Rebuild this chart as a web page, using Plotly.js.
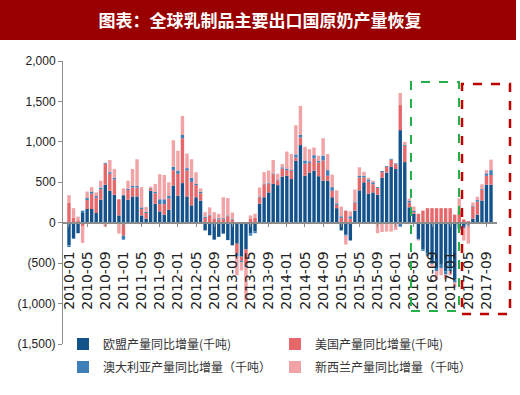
<!DOCTYPE html>
<html><head><meta charset="utf-8">
<script src="https://cdn.plot.ly/plotly-3.0.1.min.js"></script>
<style>html,body{margin:0;padding:0;background:#fff}#chart{width:520px;height:395px}</style>
</head><body><div id="chart"></div>
<script>
const months = [
'2010-01','2010-02','2010-03','2010-04','2010-05','2010-06','2010-07','2010-08','2010-09','2010-10','2010-11','2010-12',
'2011-01','2011-02','2011-03','2011-04','2011-05','2011-06','2011-07','2011-08','2011-09','2011-10','2011-11','2011-12',
'2012-01','2012-02','2012-03','2012-04','2012-05','2012-06','2012-07','2012-08','2012-09','2012-10','2012-11','2012-12',
'2013-01','2013-02','2013-03','2013-04','2013-05','2013-06','2013-07','2013-08','2013-09','2013-10','2013-11','2013-12',
'2014-01','2014-02','2014-03','2014-04','2014-05','2014-06','2014-07','2014-08','2014-09','2014-10','2014-11','2014-12',
'2015-01','2015-02','2015-03','2015-04','2015-05','2015-06','2015-07','2015-08','2015-09','2015-10','2015-11','2015-12',
'2016-01','2016-02','2016-03','2016-04','2016-05','2016-06','2016-07','2016-08','2016-09','2016-10','2016-11','2016-12',
'2017-01','2017-02','2017-03','2017-04','2017-05','2017-06','2017-07','2017-08','2017-09','2017-10'];

const euValues = [
-280,-190,-130,120,170,170,120,285,470,395,345,90,
340,285,325,325,90,50,395,235,140,100,160,460,
335,490,325,215,315,275,-95,-155,-210,-175,-135,-215,
-280,-260,-420,-330,-130,-110,235,315,375,480,465,570,
580,540,765,960,580,620,645,575,520,520,315,180,
-95,-140,-220,150,400,500,360,375,345,555,620,690,
664,1145,750,190,110,-200,-330,-380,-480,-560,-520,-600,
-560,-700,-50,-50,-20,50,100,275,470,470];

const usValues = [
250,60,30,-40,110,190,190,130,260,210,190,200,
-160,120,110,110,80,70,30,130,90,130,140,190,
270,555,320,290,150,90,60,90,50,40,50,80,
40,-120,-50,-200,50,60,80,160,110,120,60,100,
70,100,40,95,150,120,150,170,250,60,80,40,
60,150,50,100,160,60,150,100,85,70,70,90,
60,310,200,60,20,110,150,180,180,180,180,180,
180,100,150,40,20,150,160,130,110,120];

const auValues = [
-20,-10,0,30,25,25,20,20,10,20,20,0,
-50,15,20,20,20,15,5,15,60,60,30,40,
40,40,30,50,15,20,15,10,5,15,10,10,
10,-30,-20,-20,-30,-20,10,10,10,10,10,15,
20,10,40,30,40,20,40,20,60,70,45,20,
20,-20,30,10,20,20,25,25,10,15,10,10,
10,-50,10,20,15,-10,-20,-30,-30,-40,-40,-40,
-40,-40,-30,-20,-10,10,20,10,30,60];

const nzValues = [
90,120,45,-210,80,55,45,85,-50,150,110,-135,
85,100,210,330,250,60,15,100,310,300,170,330,
245,235,180,230,145,40,55,90,75,55,255,215,
75,-240,-100,-410,40,50,110,140,150,165,70,40,
210,200,360,360,170,150,95,65,215,200,155,160,
120,-110,60,150,105,50,20,20,-130,-115,-110,-110,
-90,150,40,30,55,-10,0,-10,-40,-110,-90,-60,
-50,-60,150,-150,-230,40,40,60,40,130];

const seriesNames = ['欧盟产量同比增量(千吨)','美国产量同比增量(千吨)','澳大利亚产量同比增量（千吨）','新西兰产量同比增量（千吨）'];
const xTickLabels = ['2010-01','2010-05','2010-09','2011-01','2011-05','2011-09','2012-01','2012-05','2012-09',
'2013-01','2013-05','2013-09','2014-01','2014-05','2014-09','2015-01','2015-05','2015-09',
'2016-01','2016-05','2016-09','2017-01','2017-05','2017-09'];
const yTickValues = [-1500,-1000,-500,0,500,1000,1500,2000];
const yTickLabels = ['(1,500)','(1,000)','(500)','0','500','1,000','1,500','2,000'];
const titleText = '图表：全球乳制品主要出口国原奶产量恢复';

const colors = ['#14528c','#e6686b','#3d7fb6','#f2a3a6'];
const legendRefs = ['legend','legend2','legend','legend2'];
const allValues = [euValues, usValues, auValues, nzValues];

const traces = allValues.map((vals, k) => ({
  type: 'bar', x: months, y: vals, name: seriesNames[k],
  marker: {color: colors[k], line: {width: 0}},
  legend: legendRefs[k], legendgroup: 'g' + k,
  hoverinfo: 'skip'
}));

// plot area in px: left 63, right 497, top 61, bottom 344
const W = 434, H = 283, L = 63, B = 344;
const px = x => (x - L) / W;
const py = y => (B - y) / H;

const layout = {
  width: 520, height: 395,
  margin: {l: 63, r: 23, t: 61, b: 51, pad: 0},
  paper_bgcolor: '#ffffff', plot_bgcolor: 'rgba(0,0,0,0)',
  barmode: 'relative', bargap: 0.25,
  showlegend: true,
  title: {text: '<b>' + titleText + '</b>', x: 0.5, xref: 'container', xanchor: 'center',
          y: 1 - 21/395, yref: 'container', yanchor: 'middle',
          font: {family: 'Noto Sans CJK SC', size: 17, color: '#ffffff'}},
  xaxis: {
    type: 'category', categoryorder: 'array', categoryarray: months,
    range: [-1.32, 94.32], anchor: 'free', position: 1500/3500,
    showline: true, linecolor: '#8c8c8c', linewidth: 2,
    ticks: 'outside', ticklen: 3, tickcolor: '#8c8c8c', tickwidth: 1,
    tickmode: 'array', tickvals: xTickLabels, ticktext: xTickLabels,
    tickangle: -90, ticklabelstandoff: 19,
    tickfont: {family: 'DejaVu Sans', size: 14, color: '#222222'},
    showgrid: false, zeroline: false, fixedrange: true
  },
  yaxis: {
    range: [-1500, 2000], tickmode: 'array', tickvals: yTickValues, ticktext: yTickLabels,
    showline: true, linecolor: '#8c8c8c', linewidth: 1,
    ticks: 'outside', ticklen: 4, tickcolor: '#8c8c8c',
    tickfont: {family: 'Liberation Sans', size: 12, color: '#222222'},
    showgrid: false, zeroline: false, fixedrange: true
  },
  legend: {x: 0, xanchor: 'left', y: 0.051, yanchor: 'top', orientation: 'v',
           tracegroupgap: 4, bgcolor: 'rgba(0,0,0,0)',
           font: {family: 'Noto Sans CJK SC', size: 12, color: '#333333'}},
  legend2: {x: px(275), xanchor: 'left', y: 0.051, yanchor: 'top', orientation: 'v',
           tracegroupgap: 4, bgcolor: 'rgba(0,0,0,0)',
           font: {family: 'Noto Sans CJK SC', size: 12, color: '#333333'}},
  shapes: [
    {type: 'rect', xref: 'paper', yref: 'paper', x0: px(0), x1: px(516), y0: py(40), y1: py(-2),
     fillcolor: '#990000', line: {width: 0}, layer: 'below'},
    {type: 'rect', xref: 'paper', yref: 'paper', x0: px(411), x1: px(459), y0: py(311), y1: py(82),
     line: {color: '#22b04a', width: 2, dash: 'dash'}, fillcolor: 'rgba(0,0,0,0)', layer: 'above'},
    {type: 'rect', xref: 'paper', yref: 'paper', x0: px(462), x1: px(510), y0: py(314), y1: py(84),
     line: {color: '#c00000', width: 2.5, dash: 'dash'}, fillcolor: 'rgba(0,0,0,0)', layer: 'above'}
  ]
};

Plotly.newPlot('chart', traces, layout, {displayModeBar: false, staticPlot: true});
</script>
</body></html>
